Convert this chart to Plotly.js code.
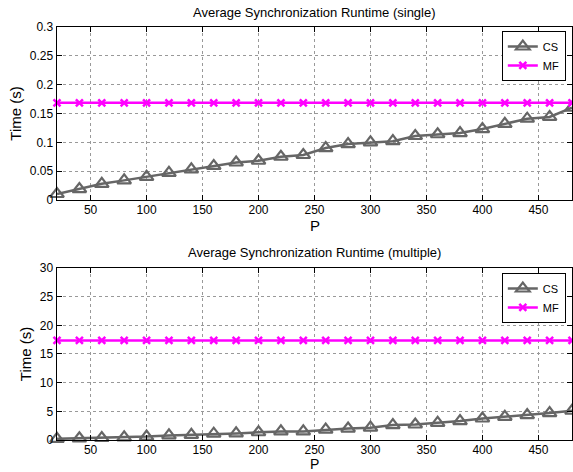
<!DOCTYPE html>
<html>
<head>
<meta charset="utf-8">
<script src="https://cdn.plot.ly/plotly-3.0.1.min.js"></script>
<style>html,body{margin:0;padding:0;background:#fff;}#chart{width:573px;height:472px;}</style>
</head>
<body>
<div id="chart"></div>
<script>
var P = [20,40,60,80,100,120,140,160,180,200,220,240,260,280,300,320,340,360,380,400,420,440,460,480];
var csSingle = [0.0104,0.019,0.028,0.034,0.040,0.047,0.053,0.059,0.065,0.068,0.075,0.078,0.090,0.097,0.100,0.102,0.111,0.114,0.116,0.123,0.132,0.141,0.144,0.160];
var mfSingle = [0.1685,0.1685,0.1685,0.1685,0.1685,0.1685,0.1685,0.1685,0.1685,0.1685,0.1685,0.1685,0.1685,0.1685,0.1685,0.1685,0.1685,0.1685,0.1685,0.1685,0.1685,0.1685,0.1685,0.1685];
var csMultiple = [0.2,0.3,0.35,0.45,0.6,0.8,0.9,1.1,1.15,1.35,1.5,1.5,1.8,2.0,2.15,2.6,2.7,3.0,3.3,3.75,4.05,4.35,4.7,5.1];
var mfMultiple = [17.37,17.37,17.37,17.37,17.37,17.37,17.37,17.37,17.37,17.37,17.37,17.37,17.37,17.37,17.37,17.37,17.37,17.37,17.37,17.37,17.37,17.37,17.37,17.37];
var titles = ['Average Synchronization Runtime (single)','Average Synchronization Runtime (multiple)'];
var xTitle = 'P';

var csColor = '#666666', mfColor = '#ff00ff';
function cs(y, xa, ya, lg){
  return {x:P, y:y, xaxis:xa, yaxis:ya, name:'CS', legend:lg, mode:'lines+markers', cliponaxis:false,
    line:{color:csColor, width:2.5},
    marker:{symbol:'triangle-up-open', size:12, color:csColor, line:{color:csColor, width:2.2}}};
}
function mf(y, xa, ya, lg){
  return {x:P, y:y, xaxis:xa, yaxis:ya, name:'MF', legend:lg, mode:'lines+markers', cliponaxis:false,
    line:{color:mfColor, width:2.5},
    marker:{symbol:'x-thin-open', size:7, color:mfColor, line:{color:mfColor, width:2.5}}};
}
var data = [cs(csSingle,'x','y','legend'), mf(mfSingle,'x','y','legend'),
            cs(csMultiple,'x2','y2','legend2'), mf(mfMultiple,'x2','y2','legend2')];

var fontFam = 'Liberation Sans, Arial, sans-serif';
function xax(anchor){
  return {anchor:anchor, domain:[0,1], range:[20,480], tickvals:[50,100,150,200,250,300,350,400,450],
    ticks:'inside', ticklen:5, tickcolor:'#000', showline:true, linecolor:'#000', linewidth:1.5, mirror:'ticks',
    showgrid:true, gridcolor:'#999', griddash:'dot', gridwidth:1, zeroline:false, ticklabelstandoff:-2,
    tickfont:{size:12, color:'#000', family:fontFam}};
}
function yax(anchor, domain, range, dtick){
  return {anchor:anchor, domain:domain, range:range, dtick:dtick, tick0:0,
    ticks:'inside', ticklen:5, tickcolor:'#000', showline:true, linecolor:'#000', linewidth:1.5, mirror:'ticks',
    showgrid:true, gridcolor:'#999', griddash:'dot', gridwidth:1, zeroline:false,
    tickfont:{size:12, color:'#000', family:fontFam},
    title:{text:'Time (s)', font:{size:15, color:'#000', family:fontFam}, standoff:4}};
}
function leg(y){
  return {x:0.988, y:y, xanchor:'right', yanchor:'top', bgcolor:'#fff', bordercolor:'#000', borderwidth:1,
    font:{size:11, color:'#000', family:fontFam}, tracegroupgap:0, itemwidth:30};
}
var layout = {
  width:573, height:472, margin:{l:57, r:1, t:27, b:12},
  paper_bgcolor:'#fff', plot_bgcolor:'#fff', showlegend:true,
  font:{family:fontFam, color:'#000'},
  xaxis:xax('y'), yaxis:yax('x',[0.6005,1],[0,0.3],0.05),
  xaxis2:xax('y2'), yaxis2:yax('x2',[0.0462,0.4434],[0,30],5),
  legend:leg(0.9908), legend2:leg(0.4319),
  annotations:[
    {text:titles[0], xref:'paper', yref:'paper', x:0.5, y:1.0, yanchor:'middle', yshift:15, showarrow:false, font:{size:13, family:fontFam, color:'#000'}},
    {text:titles[1], xref:'paper', yref:'paper', x:0.5, y:0.4434, yanchor:'middle', yshift:16, showarrow:false, font:{size:13, family:fontFam, color:'#000'}},
    {text:xTitle, xref:'paper', yref:'paper', x:0.5, y:0.6005, yanchor:'middle', yshift:-26, borderpad:0, showarrow:false, font:{size:15, family:fontFam, color:'#000'}},
    {text:xTitle, xref:'paper', yref:'paper', x:0.5, y:0.0462, yanchor:'middle', yshift:-24, borderpad:0, showarrow:false, font:{size:14, family:fontFam, color:'#000'}}
  ]
};
Plotly.newPlot('chart', data, layout, {displayModeBar:false, staticPlot:true});
</script>
</body>
</html>
